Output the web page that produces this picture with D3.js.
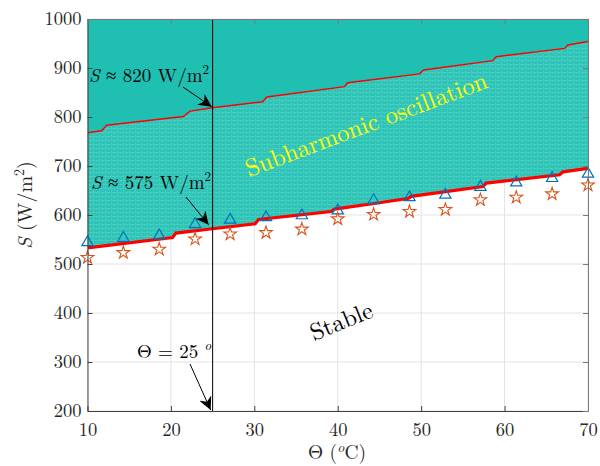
<!DOCTYPE html>
<html>
<head>
<meta charset="utf-8">
<script src="https://cdn.jsdelivr.net/npm/d3@7"></script>
<style>
  body { margin: 0; background: #fff; }
</style>
</head>
<body>
<svg id="svg" width="600" height="466"></svg>
<script>
// upper boundary (thin red line)
const upperTheta = [10, 11.7, 12.3, 21.5, 22.3, 25, 31, 31.5, 40.8, 41.2, 49.8, 50.3, 58.6, 59, 67.2, 67.6, 70];
const upperS     = [768, 772, 783, 801, 812, 819, 831, 841, 862, 870, 888, 896, 915, 923, 940, 947, 954];

// lower boundary (thick red line)
const lowerTheta = [10, 20.2, 20.6, 25, 30.1, 30.5, 39.2, 39.6, 45, 48.5, 48.8, 57.4, 57.8, 66.6, 67, 70];
const lowerS     = [533, 554, 563, 572, 582, 591, 607, 612, 625, 634, 638, 658, 665, 682, 688, 695];

// markers
const markTheta = [10, 14.3, 18.6, 22.9, 27.1, 31.4, 35.7, 40, 44.3, 48.6, 52.9, 57.1, 61.4, 65.7, 70];
const triS  = [544, 553, 558, 581, 590, 595, 599, 609, 630, 636, 641, 657, 666, 675, 684];
const starS = [513, 523, 530, 551, 561, 564, 571, 592, 601, 607, 611, 631, 636, 643, 661];

const xTicks = [10, 20, 30, 40, 50, 60, 70];
const yTicks = [200, 300, 400, 500, 600, 700, 800, 900, 1000];

const FONT = "'Latin Modern Roman', 'Liberation Serif', serif";

const svg = d3.select("#svg");
const margin = {top: 19, right: 12, bottom: 55, left: 87.5};
const W = +svg.attr("width"), H = +svg.attr("height");

const x = d3.scaleLinear().domain([10, 70]).range([margin.left, W - margin.right]);
const y = d3.scaleLinear().domain([200, 1000]).range([H - margin.bottom, margin.top]);

const upper = upperTheta.map((t, i) => ({t, s: upperS[i]}));
const lower = lowerTheta.map((t, i) => ({t, s: lowerS[i]}));

const defs = svg.append("defs");
const pat = defs.append("pattern")
  .attr("id", "mesh").attr("patternUnits", "userSpaceOnUse")
  .attr("width", 6).attr("height", 4);
pat.append("rect").attr("width", 6).attr("height", 4).attr("fill", "#2cc4b7");
pat.append("rect").attr("y", 0).attr("width", 6).attr("height", 1).attr("fill", "#48ccc0");
pat.append("rect").attr("x", 0).attr("y", 0).attr("width", 1).attr("height", 2).attr("fill", "#48ccc0");
pat.append("rect").attr("x", 3).attr("y", 2).attr("width", 1).attr("height", 2).attr("fill", "#48ccc0");
defs.append("clipPath").attr("id", "clip").append("rect")
  .attr("x", x(10)).attr("y", y(1000)).attr("width", x(70) - x(10)).attr("height", y(200) - y(1000));

// grid
const grid = svg.append("g").attr("stroke", "#e3e3e3").attr("stroke-width", 1);
grid.selectAll(".gx").data(xTicks).join("line")
  .attr("x1", d => x(d)).attr("x2", d => x(d)).attr("y1", y(200)).attr("y2", y(1000));
grid.selectAll(".gy").data(yTicks).join("line")
  .attr("x1", x(10)).attr("x2", x(70)).attr("y1", d => y(d)).attr("y2", d => y(d));

const plot = svg.append("g").attr("clip-path", "url(#clip)");

// region above lower line
const areaTop = d3.area().x(d => x(d.t)).y0(y(1000)).y1(d => y(d.s));
plot.append("path").datum(lower).attr("d", areaTop).attr("fill", "#1fbfb2");

// region between lines (mesh)
const poly = "M" + upper.map(d => `${x(d.t)},${y(d.s)}`).join("L") +
  "L" + lower.slice().reverse().map(d => `${x(d.t)},${y(d.s)}`).join("L") + "Z";
plot.append("path").attr("d", poly).attr("fill", "url(#mesh)");

const line = d3.line().x(d => x(d.t)).y(d => y(d.s));
plot.append("path").datum(upper).attr("d", line)
  .attr("fill", "none").attr("stroke", "#ff0000").attr("stroke-width", 1.5);
plot.append("path").datum(lower).attr("d", line)
  .attr("fill", "none").attr("stroke", "#ff0000").attr("stroke-width", 3.2);

// markers
const tri = d3.symbol().type(d3.symbolTriangle).size(55);
svg.append("g").selectAll("path").data(markTheta).join("path")
  .attr("transform", (d, i) => `translate(${x(d)},${y(triS[i])})`)
  .attr("d", tri).attr("fill", "none").attr("stroke", "#0072BD").attr("stroke-width", 1.2);
const star = d3.symbol().type(d3.symbolStar).size(50);
svg.append("g").selectAll("path").data(markTheta).join("path")
  .attr("transform", (d, i) => `translate(${x(d)},${y(starS[i])})`)
  .attr("d", star).attr("fill", "none").attr("stroke", "#D95319").attr("stroke-width", 1.1);

// vertical line at 25
svg.append("line").attr("x1", x(25)).attr("x2", x(25)).attr("y1", y(1000)).attr("y2", y(200))
  .attr("stroke", "#000").attr("stroke-width", 1);

// axes
const xAxis = g => g.attr("transform", `translate(0,${y(200)})`)
  .call(d3.axisBottom(x).tickValues(xTicks).tickSizeInner(-5).tickSizeOuter(0).tickPadding(12));
const yAxis = g => g.attr("transform", `translate(${x(10)},0)`)
  .call(d3.axisLeft(y).tickValues(yTicks).tickFormat(d3.format("d")).tickSizeInner(-5).tickSizeOuter(0).tickPadding(6));
const gx = svg.append("g").call(xAxis);
const gy = svg.append("g").call(yAxis);
[gx, gy].forEach(g => {
  g.selectAll("path, line").attr("stroke", "#404040");
  g.selectAll("text").style("font-family", FONT).style("font-size", "18.5px").attr("fill", "#262626");
});
// top and right box
svg.append("g").attr("transform", `translate(0,${y(1000)})`)
  .call(d3.axisTop(x).tickValues(xTicks).tickSizeInner(-5).tickSizeOuter(0).tickFormat(""))
  .selectAll("path, line").attr("stroke", "#7a7a7a");
svg.append("g").attr("transform", `translate(${x(70)},0)`)
  .call(d3.axisRight(y).tickValues(yTicks).tickSizeInner(-5).tickSizeOuter(0).tickFormat(""))
  .selectAll("path, line").attr("stroke", "#7a7a7a");

// axis titles
const xt = svg.append("text").attr("x", 337).attr("y", 459).attr("text-anchor", "middle")
  .style("font-family", FONT).style("font-size", "19.5px").attr("fill", "#262626");
xt.append("tspan").text("Θ (");
xt.append("tspan").attr("font-style", "italic").style("font-size", "14px").attr("dy", -7).text("o");
xt.append("tspan").attr("dy", 7).text("C)");

const yt = svg.append("text").attr("transform", `translate(32,205) rotate(-90)`)
  .attr("text-anchor", "middle").style("font-family", FONT).style("font-size", "20px").attr("fill", "#262626");
yt.append("tspan").attr("font-style", "italic").text("S");
yt.append("tspan").text(" (W/m");
yt.append("tspan").style("font-size", "14px").attr("dy", -8).text("2");
yt.append("tspan").attr("dy", 8).text(")");

// annotations
defs.append("marker").attr("id", "arr").attr("viewBox", "0 0 10 10")
  .attr("refX", 10).attr("refY", 5).attr("markerWidth", 13).attr("markerHeight", 13)
  .attr("markerUnits", "userSpaceOnUse").attr("orient", "auto")
  .append("path").attr("d", "M0,0 L10,5 L0,10 L3,5 Z").attr("fill", "#000");

function label(px, py, parts) {
  const t = svg.append("text").attr("x", px).attr("y", py)
    .style("font-family", FONT).style("font-size", "19px").attr("fill", "#000");
  parts.forEach(p => {
    const s = t.append("tspan").text(p.t);
    if (p.i) s.attr("font-style", "italic");
    if (p.sup) s.style("font-size", "13px").attr("dy", -8);
  });
}
function arrow(x1, y1, x2, y2) {
  svg.append("line").attr("x1", x1).attr("y1", y1).attr("x2", x2).attr("y2", y2)
    .attr("stroke", "#000").attr("stroke-width", 1).attr("marker-end", "url(#arr)");
}
label(89, 82, [{t: "S", i: true}, {t: " ≈ 820 W/m"}, {t: "2", sup: true}]);
arrow(183, 87, x(25) - 1, y(819) - 1);
label(91, 189, [{t: "S", i: true}, {t: " ≈ 575 W/m"}, {t: "2", sup: true}]);
arrow(186, 197, x(25) - 4, y(576) - 2);
label(137, 358, [{t: "Θ = 25 "}, {t: "o", sup: true, i: true}]);
arrow(190, 364, x(25) - 2, y(200) - 1);

svg.append("text").attr("transform", `translate(249,177) rotate(-20.5)`)
  .style("font-family", FONT).style("font-size", "24.5px").attr("fill", "#ffff00").text("Subharmonic oscillation");
svg.append("text").attr("transform", `translate(314,341) rotate(-22)`)
  .style("font-family", FONT).style("font-size", "24px").attr("fill", "#000").text("Stable");
</script>
</body>
</html>
